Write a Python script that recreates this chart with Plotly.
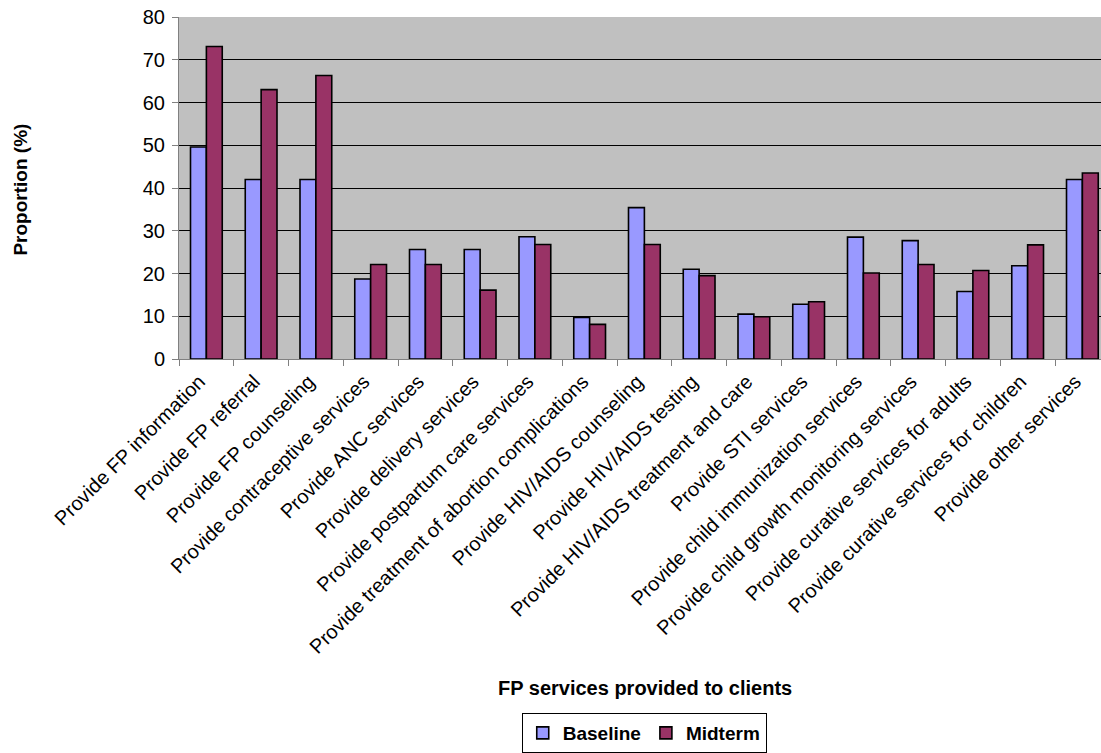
import plotly.graph_objects as go

categories = [
    "Provide FP information",
    "Provide FP referral",
    "Provide FP counseling",
    "Provide contraceptive services",
    "Provide ANC services",
    "Provide delivery services",
    "Provide postpartum care services",
    "Provide treatment of abortion complications",
    "Provide HIV/AIDS counseling",
    "Provide HIV/AIDS testing",
    "Provide HIV/AIDS treatment and care",
    "Provide STI services",
    "Provide child immunization services",
    "Provide child growth monitoring services",
    "Provide curative services for adults",
    "Provide curative services for children",
    "Provide other services",
]
baseline = [49.6, 42.0, 42.0, 18.7, 25.6, 25.6, 28.6, 9.7, 35.4, 21.0, 10.5, 12.8, 28.5, 27.7, 15.8, 21.8, 42.0]
midterm = [73.1, 63.0, 66.3, 22.1, 22.1, 16.1, 26.8, 8.1, 26.8, 19.5, 9.9, 13.4, 20.1, 22.1, 20.7, 26.7, 43.5]

FONT = "Liberation Sans, Arial, sans-serif"

fig = go.Figure()
fig.add_trace(go.Bar(x=categories, y=baseline, name="Baseline",
                     marker=dict(color="#9999FF", line=dict(color="#000000", width=1.6))))
fig.add_trace(go.Bar(x=categories, y=midterm, name="Midterm",
                     marker=dict(color="#993366", line=dict(color="#000000", width=1.6))))

W, H = 1101, 753
L, T, B = 178.5, 17, 392
ph = H - T - B

def py(pix):
    return 1 - (pix - T) / ph

def px(pix):
    return (pix - L) / (W - L)

fig.update_layout(
    width=W, height=H,
    margin=dict(l=L, r=0, t=T, b=B, pad=0),
    paper_bgcolor="white",
    plot_bgcolor="#C0C0C0",
    barmode="group",
    bargap=0.42,
    bargroupgap=0,
    font=dict(family=FONT, color="black", size=20),
    showlegend=True,
    legend=dict(
        orientation="h",
        x=px(644), xanchor="center",
        y=py(738), yanchor="middle",
        bordercolor="black", borderwidth=1,
        font=dict(size=19, family=FONT, weight="bold"),
        itemwidth=30,
        tracegroupgap=0,
    ),
    xaxis=dict(
        type="category",
        range=[-0.5, 16.34],
        tickangle=-45,
        tickson="boundaries",
        ticks="outside",
        ticklen=6,
        tickcolor="#808080",
        showline=True,
        linecolor="#808080",
        linewidth=1,
        showgrid=False,
        tickfont=dict(size=20, family=FONT),
        ticklabelshift=-7,
        ticklabelstandoff=2,
    ),
    yaxis=dict(
        range=[0, 80],
        dtick=10,
        ticks="outside",
        ticklen=6,
        tickcolor="#808080",
        showline=True,
        linecolor="#808080",
        linewidth=1,
        showgrid=True,
        gridcolor="#000000",
        gridwidth=1,
        zeroline=False,
        tickfont=dict(size=20, family=FONT),
        ticklabelstandoff=3,
    ),
    annotations=[
        dict(text="<b>FP services provided to clients</b>", xref="paper", yref="paper",
             x=px(645), y=py(692), xanchor="center", yanchor="middle", showarrow=False,
             font=dict(size=20, family=FONT)),
        dict(text="<b>Proportion (%)</b>", xref="paper", yref="paper",
             x=px(20), y=py(191), xanchor="center", yanchor="middle", showarrow=False,
             textangle=-90, font=dict(size=19, family=FONT)),
    ],
)

fig.write_html("out.html")
